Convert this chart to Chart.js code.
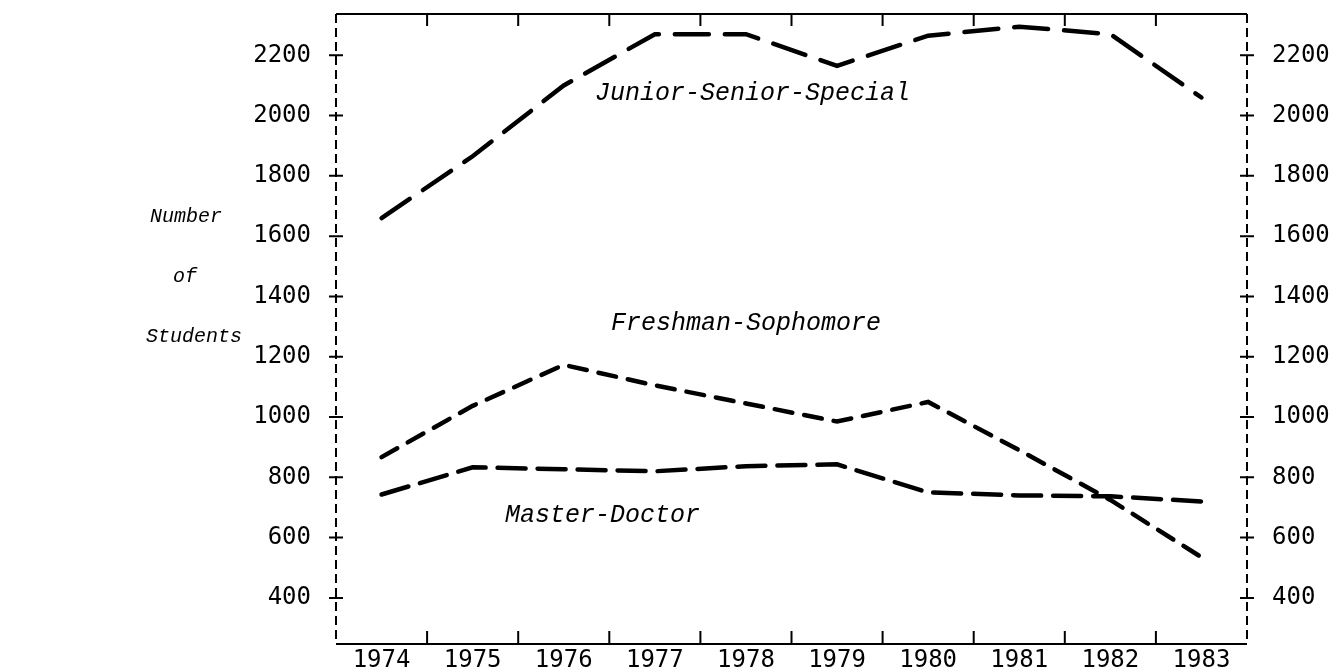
<!DOCTYPE html>
<html>
<head>
<meta charset="utf-8">
<script src="https://cdn.jsdelivr.net/npm/chart.js@4.4.1/dist/chart.umd.min.js"></script>
<style>
  html, body { margin: 0; padding: 0; background: #fff; overflow: hidden; }
  #wrap { width: 1337px; height: 668px; }
</style>
</head>
<body>
<div id="wrap"><canvas id="alunos"></canvas></div>
<script>
// dados
const years = ["1974", "1975", "1976", "1977", "1978", "1979", "1980", "1981", "1982", "1983"];
const juniorSeniorSpecial = [1660, 1865, 2100, 2270, 2270, 2165, 2265, 2295, 2270, 2060];
const freshmanSophomore = [867, 1037, 1173, 1105, 1045, 985, 1050, 890, 725, 535];
const masterDoctor = [743, 833, 827, 820, 837, 843, 750, 740, 737, 720];
const yTicks = [400, 600, 800, 1000, 1200, 1400, 1600, 1800, 2000, 2200];
const yMin = 247;
const yMax = 2337;

const tickFont = { family: "'DejaVu Sans Mono', monospace", size: 24, lineHeight: 1 };

// moldura tracejada, marcas e textos
const moldura = {
  id: 'moldura',
  afterDraw(chart) {
    const ctx = chart.ctx;
    const a = chart.chartArea;
    const x = chart.scales.x;
    const y = chart.scales.y;
    ctx.save();
    ctx.strokeStyle = '#000';
    ctx.lineWidth = 2;

    ctx.beginPath();
    ctx.moveTo(a.left, a.top); ctx.lineTo(a.right, a.top);
    ctx.moveTo(a.left, a.bottom); ctx.lineTo(a.right, a.bottom);
    ctx.stroke();

    ctx.setLineDash([9, 5]);
    ctx.beginPath();
    ctx.moveTo(a.left, a.top); ctx.lineTo(a.left, a.bottom);
    ctx.moveTo(a.right, a.top); ctx.lineTo(a.right, a.bottom);
    ctx.stroke();
    ctx.setLineDash([]);

    ctx.beginPath();
    for (let i = 1; i < years.length; i++) {
      const px = (x.getPixelForValue(i - 1) + x.getPixelForValue(i)) / 2;
      ctx.moveTo(px, a.top); ctx.lineTo(px, a.top + 12);
      ctx.moveTo(px, a.bottom); ctx.lineTo(px, a.bottom - 13);
    }
    yTicks.forEach(v => {
      const py = y.getPixelForValue(v);
      ctx.moveTo(a.left - 7, py); ctx.lineTo(a.left + 7, py);
      ctx.moveTo(a.right - 7, py); ctx.lineTo(a.right + 7, py);
    });
    ctx.stroke();

    ctx.fillStyle = '#000';
    ctx.textBaseline = 'alphabetic';
    ctx.textAlign = 'left';
    ctx.font = "italic 25px 'Liberation Mono', 'Courier New', monospace";
    ctx.fillText('Junior-Senior-Special', 595, 100);
    ctx.fillText('Freshman-Sophomore', 611, 330);
    ctx.fillText('Master-Doctor', 505, 522);

    ctx.font = "italic 20px 'Liberation Mono', 'Courier New', monospace";
    ctx.fillText('Number', 150, 222);
    ctx.fillText('of', 173, 282);
    ctx.fillText('Students', 146, 342);
    ctx.restore();
  }
};

function linha(label, data, dash) {
  return {
    label: label,
    data: data,
    borderColor: '#000',
    borderWidth: 4.5,
    borderDash: dash,
    borderCapStyle: 'round',
    pointRadius: 0,
    tension: 0,
    fill: false
  };
}

function eixoY(pos, largura) {
  return {
    position: pos,
    min: yMin,
    max: yMax,
    grid: { display: false, drawTicks: false },
    border: { display: false },
    ticks: { color: '#000', font: tickFont, padding: 25, callback: v => String(v) },
    afterBuildTicks: s => { s.ticks = yTicks.map(v => ({ value: v })); },
    afterFit: s => { s.width = largura; s.paddingTop = 0; s.paddingBottom = 0; }
  };
}

new Chart(document.getElementById('alunos'), {
  type: 'line',
  data: {
    labels: years,
    datasets: [
      linha('Junior-Senior-Special', juniorSeniorSpecial, [34, 16]),
      linha('Freshman-Sophomore', freshmanSophomore, [18, 12]),
      linha('Master-Doctor', masterDoctor, [28, 12])
    ]
  },
  options: {
    responsive: true,
    maintainAspectRatio: false,
    animation: false,
    layout: { padding: { top: 14, left: 0, right: 0, bottom: 0 } },
    plugins: {
      legend: { display: false },
      tooltip: { enabled: false }
    },
    scales: {
      x: {
        type: 'category',
        offset: true,
        grid: { display: false },
        border: { display: false },
        ticks: { color: '#000', font: tickFont, padding: -3, maxRotation: 0, autoSkip: false },
        afterFit: s => { s.height = 24; s.paddingLeft = 0; s.paddingRight = 0; }
      },
      y: eixoY('left', 336),
      y2: eixoY('right', 90)
    }
  },
  plugins: [moldura]
});
</script>
</body>
</html>
